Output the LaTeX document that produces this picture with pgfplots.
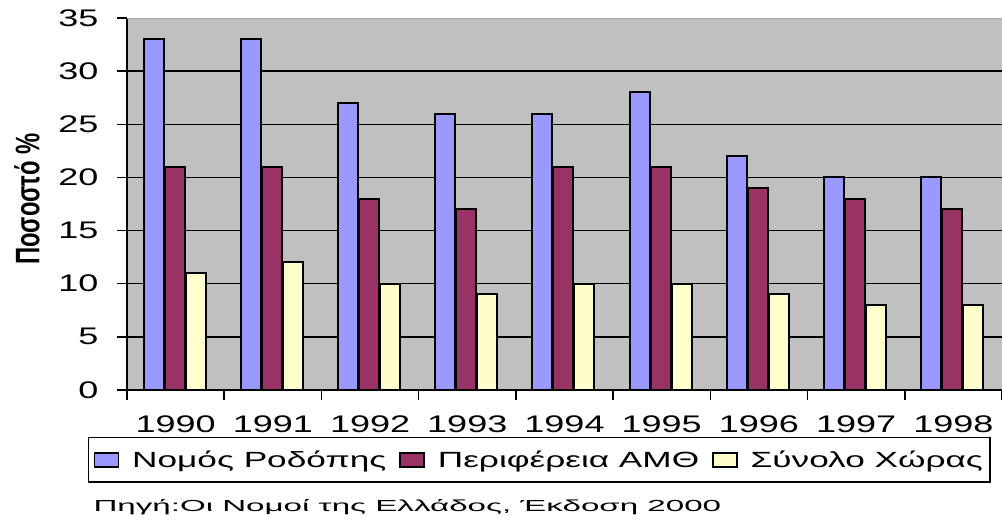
\documentclass[border=0pt]{standalone}
\usepackage{fontspec}
\setmainfont{Liberation Sans}[FakeStretch=1.5]
\newfontfamily\legfont{Liberation Sans}[FakeStretch=1.6]
\newfontfamily\srcfont{Liberation Sans}[FakeStretch=2.07]
\newfontfamily\ylabfont{Liberation Sans}[FakeStretch=0.7]
\usepackage{pgfplots}
\pgfplotsset{compat=1.18}
\definecolor{cblue}{HTML}{9999FF}
\definecolor{cmaroon}{HTML}{993366}
\definecolor{cyellow}{HTML}{FFFFCC}
\definecolor{bggray}{HTML}{C0C0C0}
\definecolor{topgray}{HTML}{A8A8A8}
\begin{document}
\begin{tikzpicture}
\useasboundingbox (-127pt,-133pt) rectangle (875pt,390pt);
\begin{axis}[
  at={(0pt,0pt)}, anchor=south west,
  width=875pt, height=372pt, scale only axis,
  xmin=0.5, xmax=9.5, ymin=0, ymax=35,
  axis background/.style={fill=bggray},
  axis x line*=bottom, axis y line*=left,
  axis line style={-, black, line width=2pt},
  xtick={1,...,9},
  xticklabels={1990,1991,1992,1993,1994,1995,1996,1997,1998},
  minor xtick={0.5,1.5,...,9.5},
  ytick={0,5,...,35},
  extra y ticks={5,10,...,30},
  extra y tick labels={},
  extra y tick style={grid=major, major grid style={black, line width=1.5pt}},
  tick align=outside,
  major tick length=10pt, minor tick length=10pt,
  major x tick style={draw=none},
  tick style={black, line width=1.5pt},
  /pgf/number format/assume math mode=true,
  tick label style={font=\fontsize{24}{28}\selectfont},
  yticklabel style={xshift=-15pt},
  xticklabel style={yshift=-12pt},
  legend columns=3,
  legend style={at={(-0.0446,-0.1263)}, anchor=north west, draw=black, line width=1.5pt,
    font=\legfont\fontsize{22}{26}\selectfont, inner xsep=5pt, inner ysep=11pt,
    /tikz/every odd column/.append style={column sep=11pt},
    /tikz/every even column/.append style={column sep=11pt}},
  legend image code/.code={\draw[#1, line width=1.5pt] (0pt,-7pt) rectangle (24pt,7pt);},
]
\addplot[ybar, bar width=20pt, bar shift=-22pt, fill=cblue, draw=black, line width=2pt]
  coordinates {(1,33) (2,33) (3,27) (4,26) (5,26) (6,28) (7,22) (8,20) (9,20)};
\addplot[ybar, bar width=20pt, bar shift=-1pt, fill=cmaroon, draw=black, line width=2pt]
  coordinates {(1,21) (2,21) (3,18) (4,17) (5,21) (6,21) (7,19) (8,18) (9,17)};
\addplot[ybar, bar width=20pt, bar shift=20pt, fill=cyellow, draw=black, line width=2pt]
  coordinates {(1,11) (2,12) (3,10) (4,9) (5,10) (6,10) (7,9) (8,8) (9,8)};
\legend{Νομός Ροδόπης, Περιφέρεια ΑΜΘ, Σύνολο Χώρας}
\draw[topgray, line width=2pt] (rel axis cs:0,1) -- (rel axis cs:1,1);
\end{axis}
\node[rotate=90, font=\ylabfont\bfseries\fontsize{34}{38}\selectfont] at (-100pt,191pt) {Ποσοστό \%};
\node[anchor=west, font=\srcfont\fontsize{16}{19}\selectfont] at (-37pt,-117pt) {Πηγή:Οι Νομοί της Ελλάδος, Έκδοση 2000};
\end{tikzpicture}
\end{document}
